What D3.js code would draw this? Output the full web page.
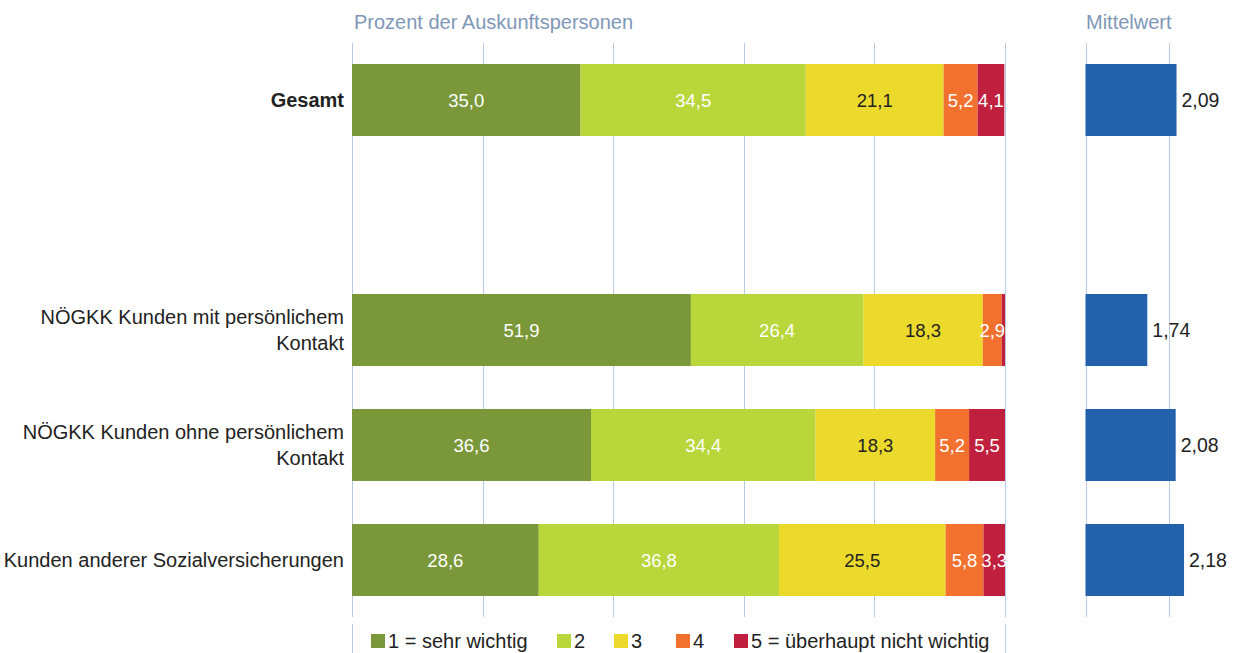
<!DOCTYPE html>
<html>
<head>
<meta charset="utf-8">
<script src="https://cdn.jsdelivr.net/npm/d3@7"></script>
<style>
  body { margin: 0; background: #fff; }
  svg { font-family: "Liberation Sans", Arial, sans-serif; }
</style>
</head>
<body>
<div id="chart"></div>
<script>
// categories (empty slot between Gesamt and the groups)
var categories = ["Gesamt", "leer", "mit", "ohne", "andere"];
var catLabels = [["Gesamt"], [], ["NÖGKK Kunden mit persönlichem", "Kontakt"],
                 ["NÖGKK Kunden ohne persönlichem", "Kontakt"], ["Kunden anderer Sozialversicherungen"]];
var seriesNames = ["1 = sehr wichtig", "2", "3", "4", "5 = überhaupt nicht wichtig"];
var s1 = [35.0, null, 51.9, 36.6, 28.6];
var s2 = [34.5, null, 26.4, 34.4, 36.8];
var s3 = [21.1, null, 18.3, 18.3, 25.5];
var s4 = [5.2, null, 2.9, 5.2, 5.8];
var s5 = [4.1, null, 0.5, 5.5, 3.3];
var means = [2.09, null, 1.74, 2.08, 2.18];
var pctTicks = [0, 20, 40, 60, 80, 100];
var meanTicks = [1, 2];

var colors = ["#7a983a", "#b9d63b", "#ebd92b", "#f2712e", "#c01f3d"];
var labelColors = ["#fff", "#fff", "#222", "#fff", "#fff"];
var gridColor = "#b9cbe4";
var titleColor = "#8097b8";

var W = 1252, H = 653;
var svg = d3.select("#chart").append("svg").attr("width", W).attr("height", H);

var y = d3.scaleBand().domain(categories).range([42.5, 617.5])
  .paddingInner(0.374).paddingOuter(0.187);
var x = d3.scaleLinear().domain([0, 100]).range([352, 1005]);
var xm = d3.scaleLinear().domain([1, 3]).range([1085.5, 1252.5]);

// gridlines
svg.append("g").selectAll("line").data(pctTicks).join("line")
  .attr("x1", function(d){ return Math.round(x(d)) + 0.5; })
  .attr("x2", function(d){ return Math.round(x(d)) + 0.5; })
  .attr("y1", 43).attr("y2", 617)
  .attr("stroke", gridColor).attr("stroke-width", 1);
svg.append("g").selectAll("line").data(meanTicks).join("line")
  .attr("x1", function(d){ return Math.round(xm(d)) + 0.5; })
  .attr("x2", function(d){ return Math.round(xm(d)) + 0.5; })
  .attr("y1", 43).attr("y2", 617)
  .attr("stroke", gridColor).attr("stroke-width", 1);

// axis titles
svg.append("text").attr("x", 354).attr("y", 29).attr("fill", titleColor)
  .style("font-size", "20px").text("Prozent der Auskunftspersonen");
svg.append("text").attr("x", 1086).attr("y", 29).attr("fill", titleColor)
  .style("font-size", "20px").text("Mittelwert");

// stacked data
var rows = categories.map(function(c, i){
  return {cat: c, s0: s1[i], s1: s2[i], s2: s3[i], s3: s4[i], s4: s5[i]};
}).filter(function(r){ return r.s0 != null; });
var keys = ["s0", "s1", "s2", "s3", "s4"];
var stack = d3.stack().keys(keys)(rows);

var layers = svg.append("g").selectAll("g").data(stack).join("g")
  .attr("fill", function(d, i){ return colors[i]; });
layers.selectAll("rect").data(function(d){ return d; }).join("rect")
  .attr("x", function(d){ return x(d[0]); })
  .attr("width", function(d){ return x(d[1]) - x(d[0]); })
  .attr("y", function(d){ return y(d.data.cat); })
  .attr("height", y.bandwidth());

// value labels
stack.forEach(function(layer, li){
  svg.append("g").selectAll("text").data(layer.filter(function(d){ return d[1] - d[0] >= 1; })).join("text")
    .attr("x", function(d){ return (x(d[0]) + x(d[1])) / 2; })
    .attr("y", function(d){ return y(d.data.cat) + y.bandwidth() / 2 + 7; })
    .attr("text-anchor", "middle")
    .attr("fill", labelColors[li])
    .style("font-size", "18.5px")
    .text(function(d){ return d3.format(".1f")(d[1] - d[0]).replace(".", ","); });
});

// mean bars
var meanRows = categories.map(function(c, i){ return {cat: c, v: means[i]}; })
  .filter(function(d){ return d.v != null; });
svg.append("g").selectAll("rect").data(meanRows).join("rect")
  .attr("x", xm(1))
  .attr("width", function(d){ return xm(d.v) - xm(1); })
  .attr("y", function(d){ return y(d.cat); })
  .attr("height", y.bandwidth())
  .attr("fill", "#2361ad");
svg.append("g").selectAll("text").data(meanRows).join("text")
  .attr("x", function(d){ return xm(d.v) + 5; })
  .attr("y", function(d){ return y(d.cat) + y.bandwidth() / 2 + 7; })
  .attr("fill", "#222")
  .style("font-size", "19.5px")
  .text(function(d){ return d3.format(".2f")(d.v).replace(".", ","); });

// category labels
categories.forEach(function(c, i){
  var lines = catLabels[i];
  if (!lines.length) return;
  var cy = y(c) + y.bandwidth() / 2;
  var lh = 26;
  var t = svg.append("text").attr("text-anchor", "end").attr("fill", "#222")
    .style("font-size", "20px").style("font-weight", i === 0 ? "bold" : "normal");
  lines.forEach(function(l, k){
    t.append("tspan").attr("x", 344)
      .attr("y", cy + 7 + (k - (lines.length - 1) / 2) * lh)
      .text(l);
  });
});

// legend
var lg = svg.append("g");
[352.5, 1005.5].forEach(function(xx){
  lg.append("line").attr("x1", xx).attr("x2", xx).attr("y1", 624).attr("y2", 653)
    .attr("stroke", gridColor);
});
var legendX = [371, 557, 614, 676, 734];
seriesNames.forEach(function(n, i){
  lg.append("rect").attr("x", legendX[i]).attr("y", 634).attr("width", 14).attr("height", 14)
    .attr("fill", colors[i]);
  lg.append("text").attr("x", legendX[i] + 17).attr("y", 648).attr("fill", "#222")
    .style("font-size", "20px").text(n);
});
</script>
</body>
</html>
